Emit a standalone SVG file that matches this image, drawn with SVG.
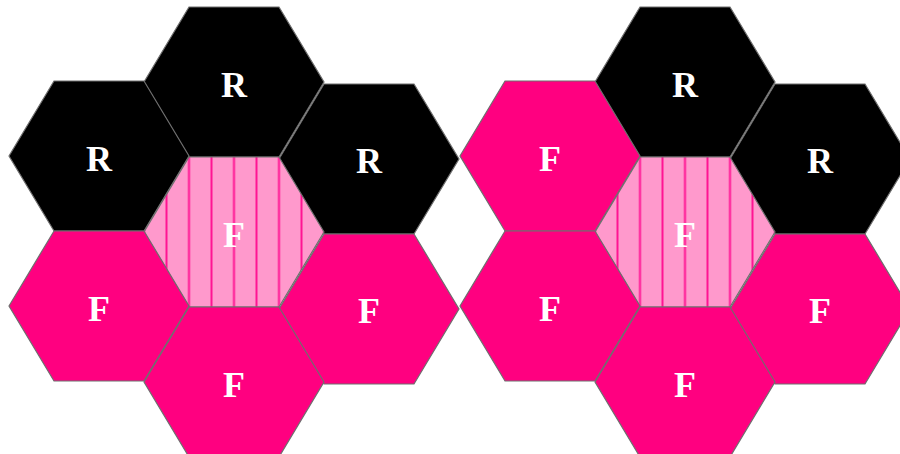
<svg xmlns="http://www.w3.org/2000/svg" width="900" height="454" viewBox="0 0 900 454">
  <style>
    .hex { stroke: #6e6e6e; stroke-width: 1.2; }
    .r { fill: #000000; }
    .f { fill: #FF0080; }
    .s { fill: url(#stripes); }
    .lbl { font-family: "Liberation Serif", "Times New Roman", serif; font-weight: bold; font-size: 36px; fill: #ffffff; text-anchor: middle; }
  </style>
  <defs>
    <polygon id="hx" points="-90,0 -45,-75 45,-75 90,0 45,75 -45,75"/>
    <pattern id="stripes" patternUnits="objectBoundingBox" x="0.0625" y="0" width="0.125" height="1" patternContentUnits="userSpaceOnUse">
      <rect x="0" y="0" width="22.5" height="150" fill="#FF99CC"/>
      <line x1="11.25" y1="0" x2="11.25" y2="150" stroke="#FF1493" stroke-width="2"/>
    </pattern>
  </defs>
  <rect width="900" height="454" fill="#ffffff"/>

  <g id="left-cluster">
    <g id="L-top"><use href="#hx" x="234" y="82" class="hex r"/><text class="lbl" x="234" y="97">R</text></g>
    <g id="L-upleft"><use href="#hx" x="99" y="156" class="hex r"/><text class="lbl" x="99" y="171">R</text></g>
    <g id="L-upright"><use href="#hx" x="369" y="159" class="hex r"/><text class="lbl" x="369" y="173">R</text></g>
    <g id="L-center"><polygon points="144,232 189,157 279,157 324,232 279,307 189,307" class="hex s"/><text class="lbl" x="234" y="247">F</text></g>
    <g id="L-lowleft"><use href="#hx" x="99" y="306" class="hex f"/><text class="lbl" x="99" y="321">F</text></g>
    <g id="L-lowright"><use href="#hx" x="369" y="309" class="hex f"/><text class="lbl" x="369" y="323">F</text></g>
    <g id="L-bottom"><use href="#hx" x="234" y="382" class="hex f"/><text class="lbl" x="234" y="397">F</text></g>
  </g>

  <g id="right-cluster">
    <g id="R-top"><use href="#hx" x="685" y="82" class="hex r"/><text class="lbl" x="685" y="97">R</text></g>
    <g id="R-upleft"><use href="#hx" x="550" y="156" class="hex f"/><text class="lbl" x="550" y="171">F</text></g>
    <g id="R-upright"><use href="#hx" x="820" y="159" class="hex r"/><text class="lbl" x="820" y="173">R</text></g>
    <g id="R-center"><polygon points="595,232 640,157 730,157 775,232 730,307 640,307" class="hex s"/><text class="lbl" x="685" y="247">F</text></g>
    <g id="R-lowleft"><use href="#hx" x="550" y="306" class="hex f"/><text class="lbl" x="550" y="321">F</text></g>
    <g id="R-lowright"><use href="#hx" x="820" y="309" class="hex f"/><text class="lbl" x="820" y="323">F</text></g>
    <g id="R-bottom"><use href="#hx" x="685" y="382" class="hex f"/><text class="lbl" x="685" y="397">F</text></g>
  </g>

  <g id="connectors"></g>
</svg>
